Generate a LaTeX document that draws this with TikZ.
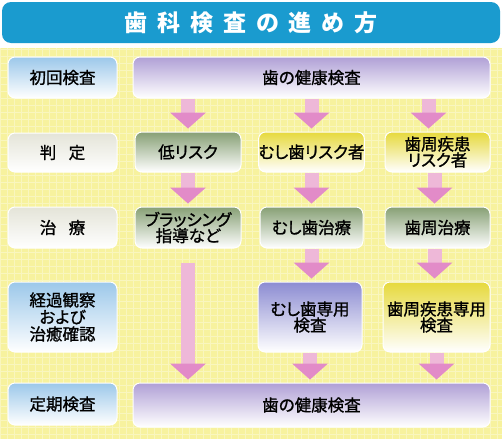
\documentclass[tikz,border=0pt]{standalone}
\usepackage{fontspec}
\setmainfont{Noto Sans CJK JP}[RawFeature=+palt]
\newfontfamily\boxfont{Noto Sans CJK JP}[RawFeature={+palt;embolden=1.2}]
\usetikzlibrary{arrows.meta,calc}
\definecolor{titlebg}{HTML}{1A9BCF}
\definecolor{panel}{HTML}{F7F29E}
\definecolor{gridc}{HTML}{F9F6BE}
\definecolor{leftblue}{HTML}{9CC8EA}
\definecolor{leftgray}{HTML}{E4E4D8}
\definecolor{purp}{HTML}{B0A0D6}
\definecolor{grn}{HTML}{87A075}
\definecolor{yel}{HTML}{E6D93C}
\definecolor{bpur}{HTML}{8C8CD2}
\definecolor{pinkhead}{HTML}{E28BC8}
\definecolor{pinkshaft}{HTML}{EEB8D8}
\tikzset{
  box/.style={rounded corners=7pt, draw=white, line width=1pt, inner sep=0pt,
    align=center, font=\boxfont\fontsize{16.5}{19}\selectfont, text=black},
  shadeof/.style={top color=#1, bottom color=white},
  bigarrow/.style={draw=pinkshaft, line width=14pt,
    -{Triangle[width=36pt,length=16pt,line width=0pt,color=pinkhead,fill=pinkhead]},
    shorten >=3pt}
}
\begin{document}
\begin{tikzpicture}[x=1pt,y=1pt]
\useasboundingbox (0,0) rectangle (502,-439);
\fill[white] (0,0) rectangle (502,-439);
% background panel
\fill[panel] (0,-48) rectangle (502,-439);
\draw[gridc, line width=0.5pt, step=7] (0,-48) grid (502,-439);
% title
\node (title) [fill=titlebg, rounded corners=9pt, minimum width=498pt, minimum height=41pt,
  inner sep=0pt, text=white, font=\fontsize{23}{25}\selectfont\bfseries]
  at (251,-22.5) {歯\hspace{9.9pt}科\hspace{9.9pt}検\hspace{9.9pt}査\hspace{9.9pt}の\hspace{9.9pt}進\hspace{9.9pt}め\hspace{9.9pt}方\hspace{14pt}};
% left column
\node (l1) [box, shadeof=leftblue, minimum width=109pt, minimum height=41pt] at (62.5,-77.5) {初回検査};
\node (l2) [box, shadeof=leftgray, minimum width=109pt, minimum height=39pt] at (62.5,-152.5) {判\hspace{0.75em}定};
\node (l3) [box, shadeof=leftgray, minimum width=109pt, minimum height=41pt] at (62.5,-227.5) {治\hspace{0.75em}療};
\node (l4) [box, shadeof=leftblue, minimum width=109pt, minimum height=70pt] at (62.5,-317) {経過観察\\[-2pt]および\\[-2pt]治癒確認};
\node (l5) [box, shadeof=leftblue, minimum width=109pt, minimum height=42pt] at (62.5,-404) {定期検査};
% wide boxes
\node (top) [box, shadeof=purp, minimum width=357pt, minimum height=41pt] at (311.5,-77.5) {歯の健康検査};
\node (bot) [box, shadeof=purp, minimum width=357pt, minimum height=44pt] at (311.5,-405) {歯の健康検査};
% judgement row
\node (low) [box, shadeof=grn, minimum width=106pt, minimum height=40pt] at (188,-152) {低リスク};
\node (caries) [box, shadeof=yel, minimum width=103pt, minimum height=40pt] at (311.5,-152) {むし歯リスク者};
\node (perio) [box, shadeof=yel, minimum width=105pt, minimum height=40pt] at (437.5,-152) {歯周疾患\\[-3pt]リスク者};
% treatment row
\node (brush) [box, shadeof=grn, minimum width=106pt, minimum height=41pt] at (188,-227.5) {ブラッシング\\[-3pt]指導など};
\node (ctreat) [box, shadeof=grn, minimum width=103pt, minimum height=41pt] at (311.5,-227.5) {むし歯治療};
\node (ptreat) [box, shadeof=grn, minimum width=105pt, minimum height=41pt] at (437.5,-227.5) {歯周治療};
% special exam row
\node (cexam) [box, shadeof=bpur, minimum width=104pt, minimum height=70pt] at (310,-317) {むし歯専用\\[-3pt]検査};
\node (pexam) [box, shadeof=yel, minimum width=107pt, minimum height=70pt] at (436.5,-317) {歯周疾患専用\\[-3pt]検査};
% arrows
\draw[bigarrow] (top.south -| low) -- (low.north);
\draw[bigarrow] (top.south -| caries) -- (caries.north);
\draw[bigarrow] ($(top.south -| perio)+(-9,0)$) -- ($(perio.north)+(-9,0)$);
\draw[bigarrow] (low.south) -- (brush.north);
\draw[bigarrow] (caries.south) -- (ctreat.north);
\draw[bigarrow] ($(perio.south)+(-3,0)$) -- ($(ptreat.north)+(-3,0)$);
\draw[bigarrow] (ctreat.south) -- (ctreat.south |- cexam.north);
\draw[bigarrow] ($(ptreat.south)+(-3,0)$) -- ($(ptreat.south |- pexam.north)+(-3,0)$);
\draw[bigarrow, shorten <=14pt] (brush.south) -- (brush.south |- bot.north);
\draw[bigarrow] (cexam.south) -- (cexam.south |- bot.north);
\draw[bigarrow] (pexam.south) -- (pexam.south |- bot.north);
\end{tikzpicture}
\end{document}
